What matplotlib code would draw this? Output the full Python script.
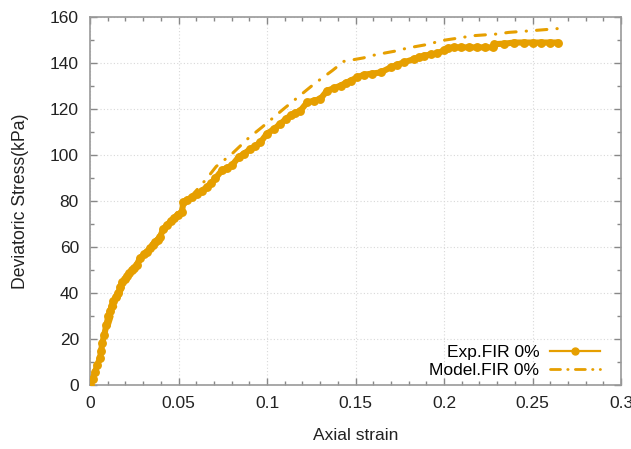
import matplotlib
matplotlib.use("Agg")
import matplotlib.pyplot as plt
from matplotlib.lines import Line2D

plt.rcParams['font.family'] = ['Liberation Sans', 'DejaVu Sans']

exp_strain = [0, 0.0015, 0.0028, 0.0042, 0.0057, 0.0063, 0.007, 0.0081, 0.0092, 0.0104,
              0.0113, 0.0123, 0.0132, 0.0146, 0.016, 0.0172, 0.0183, 0.0196, 0.0208, 0.0222,
              0.0236, 0.025, 0.0264, 0.0283, 0.0305, 0.0322, 0.034, 0.0354, 0.0368, 0.0382,
              0.0396, 0.0415, 0.0435, 0.0455, 0.0472, 0.0495, 0.0519, 0.0528, 0.0548, 0.0575,
              0.0604, 0.063, 0.0661, 0.0685, 0.0708, 0.0746, 0.0775, 0.0802, 0.084, 0.087,
              0.0906, 0.0935, 0.0963, 0.1, 0.104, 0.1076, 0.1105, 0.1133, 0.116, 0.1189,
              0.1227, 0.1265, 0.1302, 0.134, 0.1378, 0.1416, 0.1445, 0.1472, 0.151, 0.1548,
              0.1595, 0.1642, 0.1699, 0.1735, 0.1774, 0.1831, 0.186, 0.1888, 0.1925, 0.1963,
              0.2, 0.202, 0.2055, 0.2095, 0.214, 0.2185, 0.223, 0.2275, 0.2284, 0.234,
              0.2397, 0.245, 0.25, 0.255, 0.26, 0.2643]
exp_stress = [0, 2.5, 5.6, 8.8, 11.9, 15.0, 18.4, 21.9, 26.0, 29.9,
              32.2, 34.2, 36.4, 38.4, 40.0, 42.8, 45.0, 46.0, 47.2, 48.8,
              50.1, 51.0, 52.3, 55.2, 56.8, 58.0, 59.5, 61.0, 62.3, 63.2,
              64.5, 68.0, 69.5, 71.2, 72.5, 74.0, 75.3, 79.5, 80.5, 81.6,
              83.0, 84.3, 86.1, 87.8, 89.8, 93.4, 94.4, 95.5, 99.1, 100.6,
              102.5, 104.0, 105.5, 109.3, 111.3, 113.6, 115.5, 117.2, 118.2, 119.3,
              122.9, 123.6, 124.4, 128.0, 129.0, 130.2, 131.3, 132.3, 133.8, 134.9,
              135.4, 135.9, 138.1, 139.2, 140.3, 141.7, 142.5, 143.2, 143.7, 144.2,
              145.5, 146.5, 146.8, 146.8, 146.8, 146.8, 146.8, 146.8, 148.2, 148.4,
              148.9, 148.9, 148.9, 148.9, 148.9, 148.9]

model_strain = [0, 0.004, 0.008, 0.013, 0.019, 0.025, 0.03, 0.04, 0.05, 0.06,
                0.066, 0.0713, 0.0802, 0.0896, 0.0972, 0.1095, 0.1217, 0.1268, 0.1369, 0.1434,
                0.1544, 0.1614, 0.1733, 0.1793, 0.1916, 0.1982, 0.2105, 0.2152, 0.2299, 0.2365,
                0.2488, 0.2554, 0.268]
model_stress = [0, 9, 19, 31, 43, 50, 55, 63.5, 76, 84.5,
                89.8, 95.0, 100.5, 107.4, 112.1, 120.1, 127.8, 131.0, 136.7, 140.7,
                142.2, 143.6, 145.3, 146.5, 148.2, 149.7, 151.1, 151.8, 152.6, 153.3,
                154.0, 154.4, 155.2]

labels = ['Exp.FIR 0%', 'Model.FIR 0%']
color = '#E69F00'
dashdot = (3.4, 3.3, 0.1, 3.3)

fig = plt.figure(figsize=(6.31, 4.49), dpi=100)
ax = fig.add_axes([90/631, 1-385/449, 531/631, 368/449])

ax.plot(model_strain, model_stress, color=color, lw=2.2, dashes=dashdot,
        dash_capstyle='round', zorder=2)
ax.plot(exp_strain, exp_stress, color=color, lw=4.4, marker='o', ms=6.4,
        markeredgewidth=0, solid_capstyle='round', solid_joinstyle='round', zorder=3)

ax.set_xlim(0, 0.3)
ax.set_ylim(0, 160)
ax.set_xticks([0, 0.05, 0.1, 0.15, 0.2, 0.25, 0.3])
ax.set_xticklabels(['0', '0.05', '0.1', '0.15', '0.2', '0.25', '0.3'])
ax.set_yticks(range(0, 161, 20))
ax.set_xticks([i*0.01 for i in range(31)], minor=True)
ax.set_yticks(range(0, 161, 10), minor=True)
ax.grid(True, which='major', color='#d8d8d8', linestyle=(0, (1, 2)), lw=0.8)
ax.tick_params(which='both', direction='in', top=True, right=True, color='#888888',
               labelsize=12.5, labelcolor='#222222')
ax.tick_params(which='major', length=5, width=1, pad=8)
ax.tick_params(which='minor', length=3, width=1)
for s in ax.spines.values():
    s.set_color('#999999')
    s.set_linewidth(1.2)

ax.set_xlabel('Axial strain', fontsize=12.5, color='#222222', labelpad=12)
ax.set_ylabel('Deviatoric Stress(kPa)', fontsize=12.7, color='#222222', labelpad=15)

handles = [Line2D([], [], color=color, lw=1.6, marker='o', ms=5),
           Line2D([], [], color=color, lw=2.0, dashes=(3.6, 2.6, 0.15, 2.6),
                  dash_capstyle='round')]
ax.legend(handles, labels, loc='lower right', bbox_to_anchor=(600/631, 1-378/449),
          bbox_transform=fig.transFigure, frameon=False, markerfirst=False,
          fontsize=12.5, handlelength=2.9, handletextpad=0.6, labelspacing=0.15,
          borderpad=0, borderaxespad=0)

fig.savefig('out.png', dpi=100)
